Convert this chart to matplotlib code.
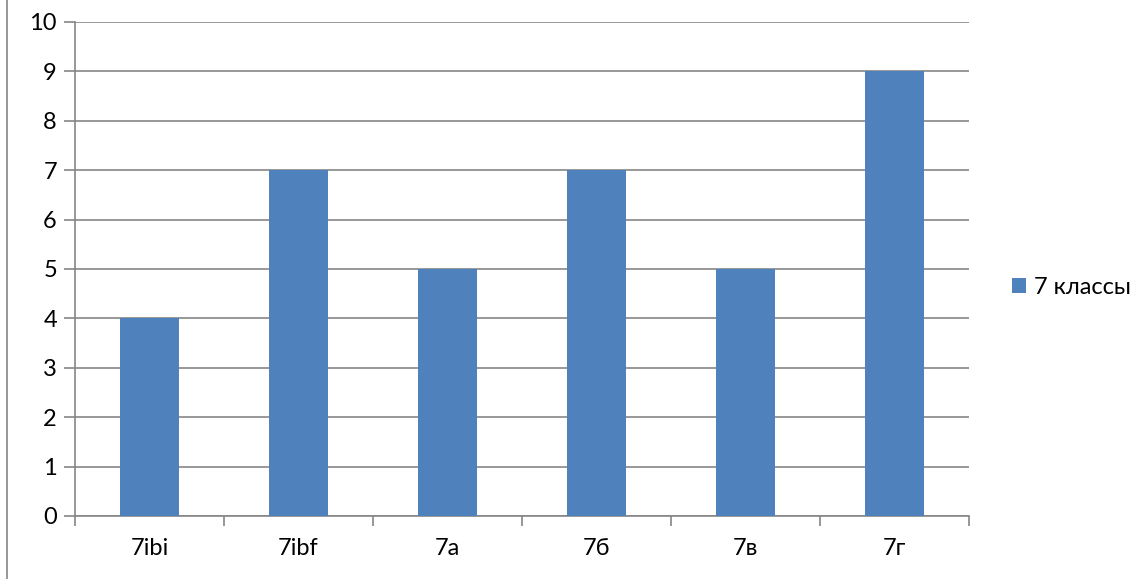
import matplotlib
matplotlib.use("Agg")
import matplotlib.pyplot as plt
from matplotlib.patches import Patch
from matplotlib.lines import Line2D

categories = ["7ibi", "7ibf", "7а", "7б", "7в", "7г"]
values = [4, 7, 5, 7, 5, 9]
series_name = "7 классы"
yticks = list(range(0, 11))

plt.rcParams['font.family'] = ['Lato', 'DejaVu Sans']

W, H = 1140, 579
fig = plt.figure(figsize=(W / 100, H / 100), dpi=100)
ax = fig.add_axes([75 / W, 1 - 516 / H, (969 - 75) / W, (516 - 22) / H])

grid_c = "#868686"
bar_c = "#4F81BD"
fs = 17
x = list(range(len(categories)))
ax.bar(x, values, width=0.4, color=bar_c, zorder=3)
ax.set_xlim(-0.5, len(categories) - 0.5)
ax.set_ylim(0, 10)
ax.set_yticks(yticks)
ax.set_yticklabels([str(t) for t in yticks], fontsize=fs)
ax.yaxis.grid(True, color=grid_c, linewidth=1.2, zorder=0)
ax.tick_params(axis='y', length=8, color=grid_c, width=1.2, pad=5)

ax.set_xticks([i - 0.5 for i in range(len(categories) + 1)])
ax.set_xticklabels([])
ax.set_xticks(x, minor=True)
ax.set_xticklabels(categories, minor=True, fontsize=fs)
ax.tick_params(axis='x', which='major', length=7, color=grid_c, width=1.2)
ax.tick_params(axis='x', which='minor', length=0, pad=16)

for s in ['top', 'right']:
    ax.spines[s].set_visible(False)
for s in ['left', 'bottom']:
    ax.spines[s].set_color(grid_c)
    ax.spines[s].set_linewidth(1.2)

handles = [Patch(facecolor=bar_c, label=series_name)]
fig.legend(handles=handles, loc='center left', bbox_to_anchor=(1012 / W, 1 - 287 / H),
           frameon=False, fontsize=fs, handlelength=0.6, handleheight=0.6,
           handletextpad=0.35, borderpad=0, borderaxespad=0)

fig.add_artist(Line2D([6.5 / W, 6.5 / W], [0, 1], color=grid_c, linewidth=1.2,
                      transform=fig.transFigure))

fig.savefig("out.png", dpi=100)
